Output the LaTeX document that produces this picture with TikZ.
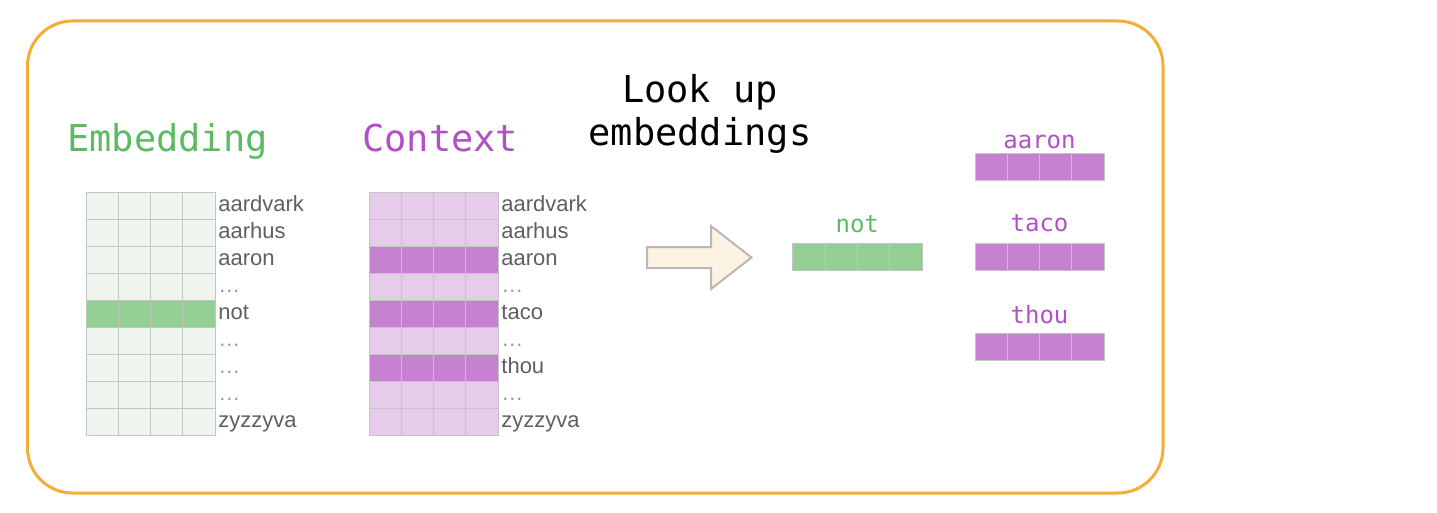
\documentclass[tikz,border=0pt]{standalone}
\usepackage{fontspec}
\newfontfamily\wordface{Liberation Sans}
\newfontfamily\monoface{DejaVu Sans Mono}
\begin{document}
\begin{tikzpicture}[x=1pt, y=-1pt,
  cell/.style={draw=gridline, line width=0.8pt},
  word/.style={anchor=west, inner sep=3pt, text=wordText, font=\wordface\fontsize{22}{26}\selectfont, text height=15.8pt, text depth=4.6pt},
  dots/.style={word, text=dotText},
  title/.style={anchor=base west, inner sep=0pt, font=\monoface\fontsize{37}{44}\selectfont},
  tag/.style={anchor=base, inner sep=0pt, font=\monoface\fontsize{24}{29}\selectfont}]
\definecolor{frame}{HTML}{F5AD35}
\definecolor{gridline}{HTML}{C4C4C4}
\definecolor{embLight}{HTML}{EEF5EE}
\definecolor{embDark}{HTML}{93CE95}
\definecolor{ctxLight}{HTML}{E6CBEB}
\definecolor{ctxDark}{HTML}{C581D0}
\definecolor{embText}{HTML}{5CBB62}
\definecolor{ctxText}{HTML}{B04FC6}
\definecolor{wordText}{HTML}{5E5E64}
\definecolor{dotText}{HTML}{9A9A9E}
\definecolor{arrowFill}{HTML}{FDF3E5}
\definecolor{arrowLine}{HTML}{B8B8B8}
\useasboundingbox (0,0) rectangle (1437,513);
\draw[frame, line width=3pt, rounded corners=45pt] (27.5,21) rectangle (1163,493);
% titles
\node[title, text=embText] (embtitle) at (67,152) {Embedding};
\node[title, text=ctxText] (ctxtitle) at (362,152) {Context};
\node[title, anchor=base] (lookup) at (700,103) {Look up};
\node[title, anchor=base] (lookupsub) at (700,146) {embeddings};
% embedding matrix
\draw[cell, fill=embLight] (86,192) rectangle (215,219) (215,205.5) node[word] (e1) {aardvark};
\draw[cell, fill=embLight] (86,219) rectangle (215,246) (215,232.5) node[word] (e2) {aarhus};
\draw[cell, fill=embLight] (86,246) rectangle (215,273) (215,259.5) node[word] (e3) {aaron};
\draw[cell, fill=embLight] (86,273) rectangle (215,300) (215,286.5) node[dots] (e4) {…};
\draw[cell, fill=embDark] (86,300) rectangle (215,327) (215,313.5) node[word] (e5) {not};
\draw[cell, fill=embLight] (86,327) rectangle (215,354) (215,340.5) node[dots] (e6) {…};
\draw[cell, fill=embLight] (86,354) rectangle (215,381) (215,367.5) node[dots] (e7) {…};
\draw[cell, fill=embLight] (86,381) rectangle (215,408) (215,394.5) node[dots] (e8) {…};
\draw[cell, fill=embLight] (86,408) rectangle (215,435) (215,421.5) node[word] (e9) {zyzzyva};
\draw[cell] (118.25,192) -- (118.25,435) (150.5,192) -- (150.5,435) (182.75,192) -- (182.75,435);
% context matrix
\draw[cell, fill=ctxLight] (369,192) rectangle (498,219) (498,205.5) node[word] (c1) {aardvark};
\draw[cell, fill=ctxLight] (369,219) rectangle (498,246) (498,232.5) node[word] (c2) {aarhus};
\draw[cell, fill=ctxDark] (369,246) rectangle (498,273) (498,259.5) node[word] (c3) {aaron};
\draw[cell, fill=ctxLight] (369,273) rectangle (498,300) (498,286.5) node[dots] (c4) {…};
\draw[cell, fill=ctxDark] (369,300) rectangle (498,327) (498,313.5) node[word] (c5) {taco};
\draw[cell, fill=ctxLight] (369,327) rectangle (498,354) (498,340.5) node[dots] (c6) {…};
\draw[cell, fill=ctxDark] (369,354) rectangle (498,381) (498,367.5) node[word] (c7) {thou};
\draw[cell, fill=ctxLight] (369,381) rectangle (498,408) (498,394.5) node[dots] (c8) {…};
\draw[cell, fill=ctxLight] (369,408) rectangle (498,435) (498,421.5) node[word] (c9) {zyzzyva};
\draw[cell] (401.25,192) -- (401.25,435) (433.5,192) -- (433.5,435) (465.75,192) -- (465.75,435);
% arrow
\draw[arrowLine, fill=arrowFill, line width=2pt, line join=miter] (647,247) -- (711,247) -- (711,226) -- (751.5,257.5) -- (711,289) -- (711,268) -- (647,268) -- cycle;
% looked up vectors
\draw[cell, fill=embDark] (792.5,243.5) rectangle (922,270.5) (857.25,233) node[tag, text=embText] (vnot) {not};
\draw[cell] (824.9,243.5) -- (824.9,270.5) (857.25,243.5) -- (857.25,270.5) (889.6,243.5) -- (889.6,270.5);
\draw[cell, fill=ctxDark] (975,153) rectangle (1104,180.5) (1039.5,148.5) node[tag, text=ctxText] (vaaron) {aaron};
\draw[cell] (1007.25,153) -- (1007.25,180.5) (1039.5,153) -- (1039.5,180.5) (1071.75,153) -- (1071.75,180.5);
\draw[cell, fill=ctxDark] (975,243) rectangle (1104,270) (1039.5,232) node[tag, text=ctxText] (vtaco) {taco};
\draw[cell] (1007.25,243) -- (1007.25,270) (1039.5,243) -- (1039.5,270) (1071.75,243) -- (1071.75,270);
\draw[cell, fill=ctxDark] (975,333) rectangle (1104,360) (1039.5,323.5) node[tag, text=ctxText] (vthou) {thou};
\draw[cell] (1007.25,333) -- (1007.25,360) (1039.5,333) -- (1039.5,360) (1071.75,333) -- (1071.75,360);
\end{tikzpicture}
\end{document}
